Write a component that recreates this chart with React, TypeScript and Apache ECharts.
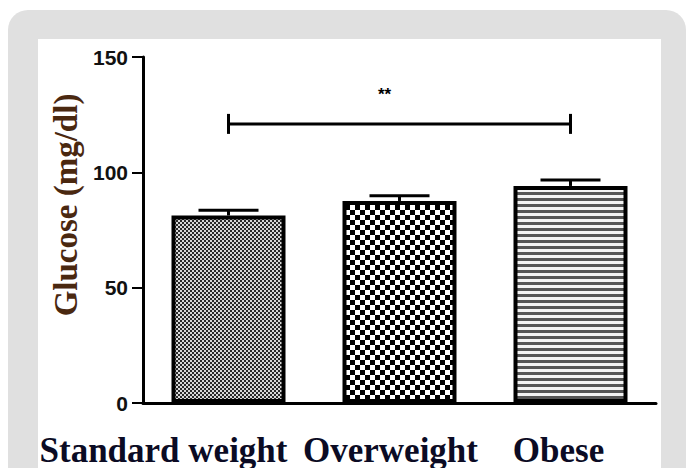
import React, { useEffect, useRef } from "react";
import * as echarts from "echarts";

const categories = ["Standard weight", "Overweight", "Obese"];
const meanValues = [81.3, 87.6, 94.1];
const semValues = [2.3, 2.2, 2.6];
const yMin = 0;
const yMax = 150;
const yInterval = 50;
const bracketFrom = 0;
const bracketTo = 2;
const bracketValue = 121;
const bracketLabel = "**";
const yAxisTitle = "Glucose (mg/dl)";

function makeTile(w: number, h: number, draw: (ctx: CanvasRenderingContext2D) => void) {
  const c = document.createElement("canvas");
  c.width = w;
  c.height = h;
  const ctx = c.getContext("2d")!;
  draw(ctx);
  return { image: c, repeat: "repeat", imageWidth: w, imageHeight: h } as any;
}

export default function App() {
  const ref = useRef<HTMLDivElement>(null);
  useEffect(() => {
    if (!ref.current) return;
    const chart = echarts.init(ref.current, undefined, { renderer: "svg" });

    const pat1 = makeTile(4, 4, (ctx) => {
      ctx.fillStyle = "#d9d9d9";
      ctx.fillRect(0, 0, 4, 4);
      ctx.fillStyle = "#2a2a2a";
      ctx.fillRect(0, 0, 2, 2);
      ctx.fillRect(2, 2, 2, 2);
    });
    const pat2 = makeTile(10, 10, (ctx) => {
      ctx.fillStyle = "#ffffff";
      ctx.fillRect(0, 0, 10, 10);
      ctx.fillStyle = "#000000";
      ctx.fillRect(0, 0, 5, 5);
      ctx.fillRect(5, 5, 5, 5);
    });
    const pat3 = makeTile(6, 6, (ctx) => {
      ctx.fillStyle = "#f2f2f2";
      ctx.fillRect(0, 0, 6, 6);
      ctx.fillStyle = "#555555";
      ctx.fillRect(0, 0, 6, 3);
    });
    const patterns = [pat1, pat2, pat3];

    const labelShift = [130, 18, 24];
    const rich: any = {};
    categories.forEach((_, i) => {
      rich["c" + i] = {
        fontFamily: "Liberation Serif",
        fontWeight: "bold",
        fontSize: 35,
        lineHeight: 30,
        color: "#0b0b24",
        padding: [0, labelShift[i], 0, 0],
      };
    });

    chart.setOption({
      animation: false,
      graphic: [
        {
          type: "rect",
          silent: true,
          z: -10,
          shape: { x: 8, y: 10, width: 678, height: 520, r: 20 },
          style: { fill: "#e0e0e0" },
        },
        {
          type: "rect",
          silent: true,
          z: -9,
          shape: { x: 38, y: 39, width: 623, height: 520 },
          style: { fill: "#ffffff" },
        },
      ],
      grid: {
        left: 143,
        right: 31,
        top: 57,
        bottom: 65,
        containLabel: false,
        outerBoundsMode: "none",
      },
      xAxis: {
        type: "category",
        data: categories,
        axisLine: { lineStyle: { color: "#000", width: 3 } },
        axisTick: { alignWithLabel: true, length: 13, lineStyle: { color: "#000", width: 3 } },
        axisLabel: {
          margin: 32,
          interval: 0,
          lineHeight: 30,
          formatter: (v: string) => "{c" + categories.indexOf(v) + "|" + v + "}",
          rich,
        },
      },
      yAxis: {
        type: "value",
        min: yMin,
        max: yMax,
        interval: yInterval,
        name: yAxisTitle,
        nameLocation: "middle",
        nameRotate: 90,
        nameGap: 47,
        nameTextStyle: {
          fontFamily: "Liberation Serif",
          fontWeight: "bold",
          fontSize: 33,
          color: "#4a2810",
          padding: [0, 0, 0, 50],
        },
        splitLine: { show: false },
        axisLine: { show: true, lineStyle: { color: "#000", width: 3 } },
        axisTick: { show: true, length: 11, lineStyle: { color: "#000", width: 2 } },
        axisLabel: {
          margin: 15,
          fontFamily: "Liberation Sans",
          fontWeight: "bold",
          fontSize: 21,
          color: "#111",
        },
      },
      series: [
        {
          type: "bar",
          barWidth: 114,
          data: meanValues.map((v, i) => ({
            value: v,
            itemStyle: { color: patterns[i], borderColor: "#000", borderWidth: 4 },
          })),
          z: 2,
        },
        {
          type: "custom",
          z: 3,
          encode: { x: 0, y: 1 },
          data: meanValues.map((v, i) => [i, v, semValues[i]]),
          renderItem: (params: any, api: any) => {
            const x = api.value(0);
            const m = api.value(1);
            const s = api.value(2);
            const p0 = api.coord([x, m]);
            const p1 = api.coord([x, m + s]);
            const half = 30;
            const st = { stroke: "#000", lineWidth: 3 };
            return {
              type: "group",
              children: [
                { type: "line", shape: { x1: p0[0], y1: p0[1], x2: p1[0], y2: p1[1] }, style: st },
                { type: "line", shape: { x1: p1[0] - half, y1: p1[1], x2: p1[0] + half, y2: p1[1] }, style: st },
              ],
            };
          },
        },
        {
          type: "custom",
          z: 3,
          encode: { x: 0, y: 2 },
          data: [[bracketFrom, bracketTo, bracketValue]],
          renderItem: (params: any, api: any) => {
            const a = api.coord([api.value(0), api.value(2)]);
            const b = api.coord([api.value(1), api.value(2)]);
            const st = { stroke: "#000", lineWidth: 3 };
            const h = 10;
            return {
              type: "group",
              children: [
                { type: "line", shape: { x1: a[0], y1: a[1], x2: b[0], y2: b[1] }, style: st },
                { type: "line", shape: { x1: a[0], y1: a[1] - h, x2: a[0], y2: a[1] + h }, style: st },
                { type: "line", shape: { x1: b[0], y1: b[1] - h, x2: b[0], y2: b[1] + h }, style: st },
                {
                  type: "text",
                  x: (a[0] + b[0]) / 2 - 15,
                  y: a[1] - 29,
                  style: {
                    text: bracketLabel,
                    fill: "#000",
                    font: "bold 17px 'Liberation Sans'",
                    align: "center",
                    verticalAlign: "middle",
                  },
                },
              ],
            };
          },
        },
      ],
    });
    return () => chart.dispose();
  }, []);
  return (
    <div
      ref={ref}
      style={{ position: "absolute", left: 0, top: 0, width: 687, height: 468 }}
    />
  );
}
